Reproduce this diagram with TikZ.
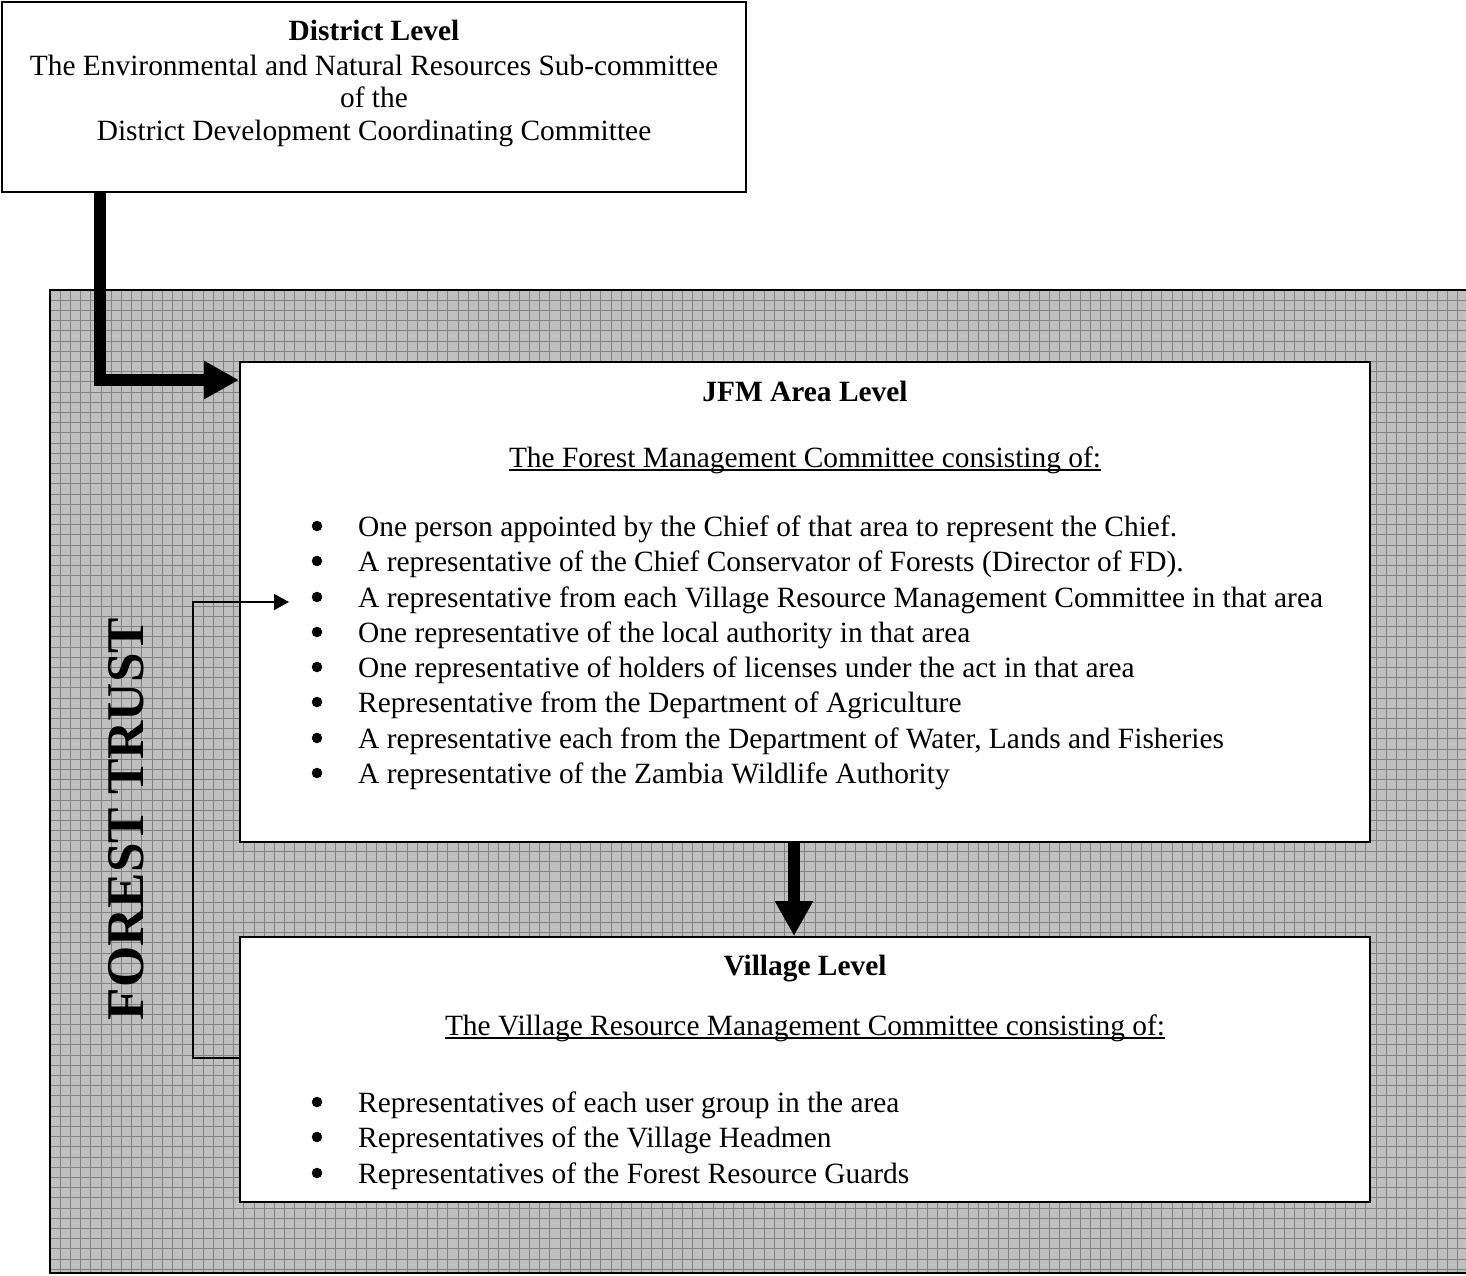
\documentclass[tikz,border=0pt]{standalone}
\usepackage{fontspec}
\setmainfont{Liberation Serif}
\usetikzlibrary{arrows.meta}
\definecolor{bggray}{RGB}{192,192,192}
\definecolor{gridgray}{RGB}{130,130,130}
\newcommand\myul[1]{\setbox0\hbox{#1}\rlap{\rule[-3.5pt]{\wd0}{2pt}}\box0}
\begin{document}
\begin{tikzpicture}[x=1pt,y=-1pt,
  box/.style={draw=black, line width=2pt, fill=white, inner sep=0pt},
  txt/.style={font=\fontsize{29.4}{34}\selectfont, inner sep=0pt, anchor=base},
  btxt/.style={txt, font=\fontsize{29.4}{34}\selectfont\bfseries},
  ltxt/.style={txt, anchor=base west},
  bul/.style={circle, fill=black, inner sep=0pt, minimum size=10.5pt},
  bigarrow/.style={line width=12pt, line join=miter, -{Triangle[length=35pt,width=36pt]}},
  thinarrow/.style={line width=1.5pt, -{Triangle[length=15pt,width=16pt]}}]
\useasboundingbox (0,0) rectangle (1466,1275);
% Forest trust background
\fill[bggray] (50,290) rectangle (1470,1273);
\begin{scope}
\clip (50,290) rectangle (1466,1273);
\foreach \i in {1,...,139} \draw[gridgray, line width=0.9pt] ({50+10.2*\i},290) -- ({50+10.2*\i},1273);
\foreach \i in {1,...,96} \draw[gridgray, line width=0.9pt] (50,{290+10.2*\i}) -- (1470,{290+10.2*\i});
\end{scope}
\draw[line width=2pt] (50,290) rectangle (1470,1273);
\node[font=\bfseries\fontsize{53}{58}\selectfont, inner sep=0pt, rotate=90, anchor=base] (ft) at (143,819) {FOREST TRUST};

% District box
\node[box, minimum width=744pt, minimum height=190pt] (district) at (374,97) {};
\node[btxt] (d1) at (374,40) {District Level};
\node[txt] (d2) at (374,75) {The Environmental and Natural Resources Sub-committee};
\node[txt] (d3) at (374,107) {of the};
\node[txt] (d4) at (374,140) {District Development Coordinating Committee};

% JFM box
\node[box, minimum width=1130pt, minimum height=480pt] (jfm) at (805,602) {};
\node[btxt] (j1) at (805,401) {JFM Area Level};
\node[txt] (j2) at (805,467) {\myul{The Forest Management Committee consisting of:}};
\foreach \y/\t [count=\k] in {
 536/{One person appointed by the Chief of that area to represent the Chief.},
 571/{A representative of the Chief Conservator of Forests (Director of FD).},
 607/{A representative from each Village Resource Management Committee in that area},
 642/{One representative of the local authority in that area},
 677/{One representative of holders of licenses under the act in that area},
 712/{Representative from the Department of Agriculture},
 748/{A representative each from the Department of Water, Lands and Fisheries},
 783/{A representative of the Zambia Wildlife Authority}} {
  \node[bul] (jb\k) at (317,\y-10) {};
  \node[ltxt] (jt\k) at (358,\y) {\t};
}

% Village box
\node[box, minimum width=1130pt, minimum height=265pt] (village) at (805,1069.5) {};
\node[btxt] (v1) at (805,975) {Village Level};
\node[txt] (v2) at (805,1035) {\myul{The Village Resource Management Committee consisting of:}};
\foreach \y/\t [count=\k] in {
 1112/{Representatives of each user group in the area},
 1147/{Representatives of the Village Headmen},
 1183/{Representatives of the Forest Resource Guards}} {
  \node[bul] (vb\k) at (317,\y-10) {};
  \node[ltxt] (vt\k) at (358,\y) {\t};
}

% Arrows
\draw[bigarrow] ([xshift=99pt]district.south west) |- ([yshift=-19pt]jfm.north west);
\draw[bigarrow] ([xshift=-11pt]jfm.south) -- ([xshift=-11pt]village.north);
\coordinate (bend) at (193,602);
\coordinate (tip) at (289,602);
\draw[thinarrow] ([yshift=11.5pt]village.west) -| (bend) -- (tip);
\end{tikzpicture}
\end{document}
